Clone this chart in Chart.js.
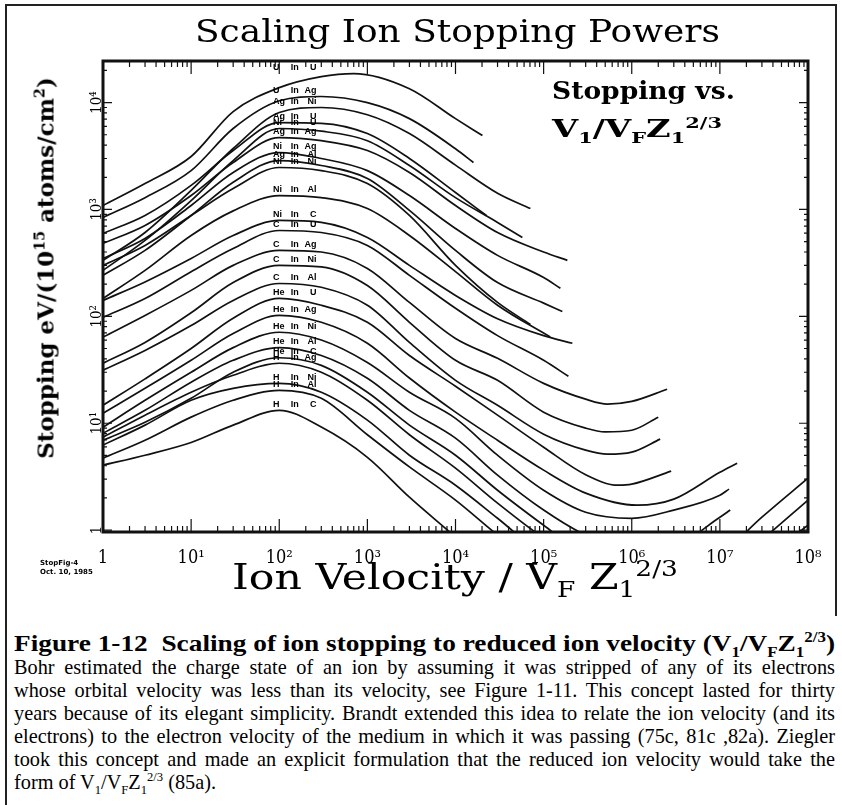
<!DOCTYPE html>
<html lang="en">
<head>
<meta charset="UTF-8">
<title>Scaling Ion Stopping Powers</title>
<script src="https://cdn.jsdelivr.net/npm/chart.js"></script>
<style>
  html, body { margin: 0; padding: 0; background: #fff; }
  body { position: relative; width: 842px; height: 805px; overflow: hidden; color: #000; }
  #plot { position: absolute; left: 0; top: 0; }
  .abs { position: absolute; white-space: nowrap; transform-origin: 0 0; }
  .rule-h { position: absolute; height: 2px; background: #222; }
  .rule-v { position: absolute; width: 2px; background: #222; }
  sub, sup { font-size: 0.62em; line-height: 0; }
  #title { left: 195px; top: 12px; font: 32px "DejaVu Serif", serif; }
  #note1 { left: 552px; top: 76px; font: bold 25px "DejaVu Serif", serif; }
  #note2 { left: 552px; top: 114px; font: bold 25px "DejaVu Serif", serif; }
  #ytitle { left: 45px; top: 268px; font: bold 23px "DejaVu Serif", serif;
            transform: translate(-50%, -50%) rotate(-90deg); transform-origin: 50% 50%; }
  #xtitle { left: 232px; top: 556px; font: 36px "DejaVu Serif Condensed", "DejaVu Serif", serif; }
  #stamp { left: 40px; top: 559px; font: bold 7px "DejaVu Sans", sans-serif; line-height: 9px; }
  #head { left: 14px; top: 629px; font: bold 24px "Liberation Serif", serif; line-height: 28px; }
  .txt { position: absolute; left: 14px; width: 821px; font: 20.3px "Liberation Serif", serif;
         line-height: 23px; text-align: justify; text-align-last: justify; }
  .txt.last { text-align-last: left; }
</style>
</head>
<body>
  <div class="rule-h" style="left:5px; top:4px; width:832px;"></div>
  <div class="rule-v" style="left:5px; top:4px; height:801px;"></div>
  <div class="rule-v" style="left:835px; top:4px; height:612px;"></div>

  <canvas id="plot" width="842" height="615"></canvas>

  <div id="title" class="abs">Scaling Ion Stopping Powers</div>
  <div id="note1" class="abs">Stopping vs.</div>
  <div id="note2" class="abs">V<sub>1</sub>/V<sub>F</sub>Z<sub>1</sub><sup>2/3</sup></div>
  <div id="ytitle" class="abs">Stopping eV/(10<sup>15</sup> atoms/cm<sup>2</sup>)</div>
  <div id="xtitle" class="abs">Ion Velocity / V<sub>F</sub> Z<sub>1</sub><sup>2/3</sup></div>
  <div id="stamp" class="abs">StopFig-4<br>Oct. 10, 1985</div>

  <div id="head" class="abs">Figure 1-12&nbsp; Scaling of ion stopping to reduced ion velocity (V<sub>1</sub>/V<sub>F</sub>Z<sub>1</sub><sup>2/3</sup>)</div>
  <div class="txt" style="top:656px;">Bohr estimated the charge state of an ion by assuming it was stripped of any of its electrons</div>
  <div class="txt" style="top:679px;">whose orbital velocity was less than its velocity, see Figure 1-11. This concept lasted for thirty</div>
  <div class="txt" style="top:702px;">years because of its elegant simplicity. Brandt extended this idea to relate the ion velocity (and its</div>
  <div class="txt" style="top:725px;">electrons) to the electron velocity of the medium in which it was passing (75c, 81c ,82a). Ziegler</div>
  <div class="txt" style="top:748px;">took this concept and made an explicit formulation that the reduced ion velocity would take the</div>
  <div class="txt last" style="top:771px;">form of V<sub>1</sub>/V<sub>F</sub>Z<sub>1</sub><sup>2/3</sup> (85a).</div>

<script>
// [reduced velocity V1/VF Z1^(2/3), stopping eV/(1e15 atoms/cm2)]
const uInU   = [[1,1090],[3,1750],[10,3130],[30,8240],[100,13800],[300,17500],[700,18700],[3000,13500],[10000,7080],[20200,4920]];
const uInAg  = [[1,842],[3,1290],[10,2310],[30,5720],[100,10400],[300,11400],[1000,10000],[3000,7080],[10000,3700],[16000,2750]];
const agInNi = [[1,334],[3,609],[10,1510],[30,3720],[100,8070],[300,9000],[1000,7700],[3000,5130],[10000,2600],[30000,1420],[70800,1020]];
const agInU  = [[1,597],[3,879],[10,1680],[30,3560],[100,6500],[300,6400],[1000,5130],[3000,3000],[10000,1440],[22400,879]];
const niInU  = [[1,269],[3,513],[10,1210],[30,2870],[100,5720],[300,5400],[1000,4400],[3000,2580],[10000,1290],[30000,756],[57400,547]];
const agInAg = [[1,481],[3,708],[10,1350],[30,2750],[100,4710],[300,4400],[1000,3560],[3000,2220],[10000,1090],[30000,609],[100000,400],[186000,334]];
const niInAg = [[1,348],[3,536],[10,1090],[30,2220],[100,3410],[300,3000],[1000,2310],[3000,1350],[10000,664],[30000,372],[100000,231],[155000,183]];
const agInAl = [[1,242],[3,414],[10,879],[30,1800],[100,2870],[300,2580],[1000,1950],[3000,980],[10000,414],[30000,207],[100000,133],[163000,111]];
const niInNi = [[1,300],[3,461],[10,879],[30,1570],[100,2470],[300,2310],[1000,1750],[3000,879],[10000,300],[30000,135],[70800,84]];
const niInAl = [[1,147],[3,269],[10,571],[30,970],[100,1350],[300,1290],[1000,1020],[3000,571],[10000,262],[30000,127],[119000,64]];
const niInC  = [[1,141],[3,210],[10,348],[30,571],[100,789],[300,756],[1000,547],[3000,300],[10000,157],[30000,95],[100000,66],[212000,56]];
const cInU   = [[1,98],[3,147],[10,262],[30,432],[100,636],[300,609],[1000,461],[3000,242],[10000,119],[30000,66],[100000,38.8],[191000,27.5]];
const cInAg  = [[1,64],[3,102],[10,175],[30,300],[100,414],[300,400],[1000,281],[3000,135],[10000,62],[30000,40.5],[100000,23.6],[300000,16.8],[530000,15.1],[1000000,16],[2520000,20.8]];
const cInNi  = [[1,36.4],[3,57],[10,108],[30,207],[100,300],[300,290],[1000,194],[3000,88],[10000,38.8],[30000,25.2],[100000,12.7],[300000,9],[500000,8.3],[1000000,8.6],[2000000,11.4]];
const cInAl  = [[1,31.3],[3,48],[10,82],[30,141],[100,203],[300,187],[1000,127],[3000,57],[10000,25.2],[30000,14.7],[100000,7.9],[300000,5.6],[530000,5.13],[1000000,5.36],[2100000,7.1]];
const heInU  = [[1,14.7],[3,26],[10,50],[30,96],[100,147],[300,127],[1000,88],[3000,43],[10000,22.2],[30000,11.9],[100000,5.97],[300000,3.3],[700000,2.63],[1000000,2.69],[2800000,3.56]];
const heInAg = [[1,12.4],[3,21.2],[10,38.8],[30,69],[100,102],[300,88],[1000,56],[3000,26.5],[10000,12.7],[30000,6.93],[100000,3.64],[300000,2.22],[1150000,1.71],[3000000,1.95],[10000000,3.48],[15700000,4.23]];
const heInNi = [[1,9.18],[3,16.4],[10,30],[30,51],[100,71],[300,60],[1000,37],[3000,19.5],[10000,11.1],[30000,5.02],[100000,2.36],[300000,1.47],[1000000,1.29],[3000000,1.54],[10000000,2.12],[12700000,2.42]];
const heInAl = [[1,8.07],[3,13.2],[10,24.2],[30,38.8],[100,51],[300,43],[1000,26.3],[3000,13.2],[10000,7.25],[30000,3.27],[100000,1.54],[300000,0.9],[1000000,0.68],[3000000,0.72],[10000000,1.32],[13100000,1.54]];
const heInC  = [[1,6.93],[3,10.2],[10,17.1],[30,30],[100,41],[300,34.8],[1000,19.5],[3000,9.6],[10000,5.02],[30000,2.36],[100000,1.11],[300000,0.58],[1000000,0.44]];
const hInAg  = [[1,7.4],[3,11.9],[10,19.5],[30,28.1],[100,36.4],[300,30],[1000,16.4],[3000,7.8],[10000,3.8],[30000,1.79],[100000,0.84],[300000,0.47],[1000000,0.34],[3000000,0.34],[10000000,0.58],[30000000,1.32],[100000000,3.06]];
const hInNi  = [[1,6.23],[3,9.6],[10,16.4],[30,21.2],[100,23.6],[300,19.5],[1000,10.7],[3000,5.02],[10000,2.63],[30000,1.29],[100000,0.58],[300000,0.36],[1000000,0.27],[3000000,0.27],[10000000,0.38],[30000000,0.81],[100000000,1.91]];
const hInAl  = [[1,4.71],[3,6.93],[10,11.4],[30,16.4],[100,20.3],[300,17.1],[1000,7.8],[3000,3.9],[10000,1.91],[30000,0.9],[100000,0.42],[1000000,0.22],[10000000,0.27],[30000000,0.52],[100000000,1.11]];
const hInC   = [[1,4.05],[3,5.02],[10,6.6],[30,9.6],[100,13.2],[300,9.2],[1000,4.8],[3000,2.03],[10000,0.86],[30000,0.38]];

const curves = [uInU, uInAg, agInNi, agInU, niInU, agInAg, niInAg, agInAl, niInNi, niInAl, niInC, cInU,
                cInAg, cInNi, cInAl, heInU, heInAg, heInNi, heInAl, heInC, hInAg, hInNi, hInAl, hInC];
const pairs = [['U','U'],['U','Ag'],['Ag','Ni'],['Ag','U'],['Ni','U'],['Ag','Ag'],['Ni','Ag'],['Ag','Al'],['Ni','Ni'],['Ni','Al'],['Ni','C'],['C','U'],
               ['C','Ag'],['C','Ni'],['C','Al'],['He','U'],['He','Ag'],['He','Ni'],['He','Al'],['He','C'],['H','Ag'],['H','Ni'],['H','Al'],['H','C']];

const xRange = [1, 1e8];
const yRange = [0.96, 24500];
const xDecades = [1, 10, 100, 1e3, 1e4, 1e5, 1e6, 1e7, 1e8];
const yDecades = [0.1, 1, 10, 100, 1e3, 1e4];
const minorSteps = [1, 2, 3, 4, 5, 6, 7, 8, 9];
const sup = {0:'⁰',1:'¹',2:'²',3:'³',4:'⁴',5:'⁵',6:'⁶',7:'⁷',8:'⁸',9:'⁹'};

function isDecade(v) {
  const e = Math.log10(v);
  return Math.abs(e - Math.round(e)) < 1e-6;
}
function decadeLabel(v) {
  if (!isDecade(v)) return '';
  const e = Math.round(Math.log10(v));
  return e === 0 ? '1' : '10' + sup[e];
}
function tickSet(decades, lo, hi) {
  const out = [];
  decades.forEach(d => minorSteps.forEach(m => {
    const v = +(d * m).toPrecision(6);
    if (v >= lo && v <= hi) out.push({value: v});
  }));
  return out;
}

// tick marks point inwards on all four sides, heavy frame
const frameTicks = {
  id: 'frameTicks',
  afterDraw(chart) {
    const {ctx, chartArea: a, scales: {x, y}} = chart;
    ctx.save();
    ctx.strokeStyle = '#111';
    ctx.lineWidth = 1.2;
    ctx.beginPath();
    x.ticks.forEach(t => {
      const px = x.getPixelForValue(t.value);
      if (px < a.left + 1 || px > a.right - 1) return;
      const len = isDecade(t.value) ? 13 : 6;
      ctx.moveTo(px, a.bottom); ctx.lineTo(px, a.bottom - len);
      ctx.moveTo(px, a.top); ctx.lineTo(px, a.top + len);
    });
    y.ticks.forEach(t => {
      const py = y.getPixelForValue(t.value);
      if (py < a.top + 1 || py > a.bottom - 1) return;
      const len = isDecade(t.value) ? 9 : 4;
      ctx.moveTo(a.left, py); ctx.lineTo(a.left + len, py);
      ctx.moveTo(a.right, py); ctx.lineTo(a.right - len, py);
    });
    ctx.stroke();
    ctx.lineWidth = 3;
    ctx.strokeRect(a.left, a.top, a.right - a.left, a.bottom - a.top);
    ctx.restore();
  }
};

// "X In Y" tag just above each curve's maximum
const curveLabels = {
  id: 'curveLabels',
  afterDatasetsDraw(chart) {
    const {ctx, scales: {x, y}} = chart;
    const xl = x.getPixelForValue(85), xm = x.getPixelForValue(150), xr = x.getPixelForValue(265);
    ctx.save();
    ctx.font = 'bold 9px "Liberation Sans", Arial, sans-serif';
    ctx.fillStyle = '#000';
    ctx.textBaseline = 'middle';
    curves.forEach((pts, i) => {
      const peak = Math.max(...pts.filter(p => p[0] >= 30 && p[0] <= 1000).map(p => p[1]));
      const py = y.getPixelForValue(peak) - 6;
      ctx.textAlign = 'left';   ctx.fillText(pairs[i][0], xl, py);
      ctx.textAlign = 'center'; ctx.fillText('In', xm, py);
      ctx.textAlign = 'right';  ctx.fillText(pairs[i][1], xr, py);
    });
    ctx.restore();
  }
};

const datasets = curves.map((pts, i) => ({
  label: pairs[i][0] + ' in ' + pairs[i][1],
  data: pts.map(p => ({x: p[0], y: p[1]})),
  borderColor: '#111',
  borderWidth: 1.7,
  pointRadius: 0,
  fill: false,
  cubicInterpolationMode: 'monotone'
}));

new Chart(document.getElementById('plot'), {
  type: 'line',
  data: {datasets},
  options: {
    responsive: false,
    animation: false,
    events: [],
    layout: {padding: {top: 61, right: 34, left: 0, bottom: 43}},
    plugins: {legend: {display: false}, tooltip: {enabled: false}},
    scales: {
      x: {
        type: 'logarithmic',
        min: xRange[0], max: xRange[1],
        afterBuildTicks: s => { s.ticks = tickSet(xDecades, xRange[0], xRange[1]); },
        afterFit: s => { s.height = 40; },
        grid: {display: false},
        border: {display: false},
        ticks: {
          autoSkip: false, minRotation: 0, maxRotation: 0, padding: 8,
          color: '#000',
          font: {family: '"DejaVu Serif Condensed", "DejaVu Serif", serif', size: 18},
          callback: v => decadeLabel(v)
        }
      },
      y: {
        type: 'logarithmic',
        min: yRange[0], max: yRange[1],
        afterBuildTicks: s => { s.ticks = tickSet(yDecades, yRange[0], yRange[1]); },
        afterFit: s => { s.width = 103; },
        grid: {display: false},
        border: {display: false},
        ticks: {
          autoSkip: false, minRotation: 90, maxRotation: 90, crossAlign: 'center', padding: -13,
          color: '#000',
          font: {family: '"DejaVu Serif Condensed", "DejaVu Serif", serif', size: 15},
          callback: v => decadeLabel(v)
        }
      }
    }
  },
  plugins: [frameTicks, curveLabels]
});

// stretch the headline texts to the widths they take in the figure
function fitWidth(id, target) {
  const el = document.getElementById(id);
  const w = el.getBoundingClientRect().width;
  el.style.transform = 'scaleX(' + (target / w).toFixed(3) + ')';
}
fitWidth('title', 525);
fitWidth('note1', 183);
fitWidth('note2', 170);
fitWidth('xtitle', 446);
fitWidth('head', 821);

// caption lines must each stay on one line
document.querySelectorAll('.txt').forEach(el => {
  let size = 20.3;
  while (el.getBoundingClientRect().height > 30 && size > 16) {
    size -= 0.2;
    el.style.fontSize = size + 'px';
  }
});
</script>
</body>
</html>
